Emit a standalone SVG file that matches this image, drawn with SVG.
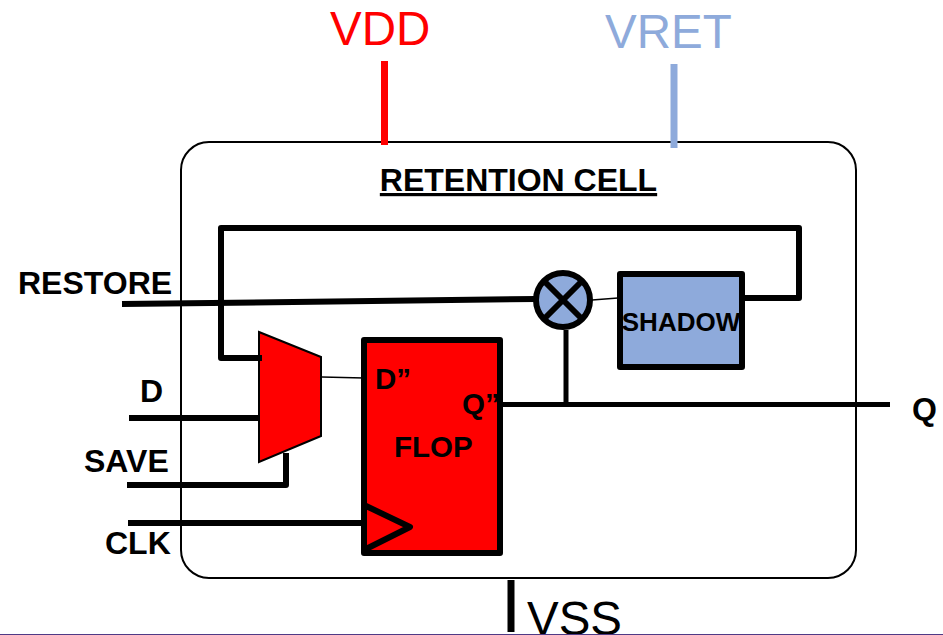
<svg xmlns="http://www.w3.org/2000/svg" width="943" height="635" viewBox="0 0 943 635">
<style>
text{font-family:"Liberation Sans",Arial,sans-serif;fill:#000}
.b{font-weight:700;font-size:32px}
.f{font-weight:700;font-size:29.500px}
.p{font-size:47.500px}
.w{fill:none;stroke:#000;stroke-width:6;stroke-linejoin:round}
.n{fill:none;stroke:#000;stroke-width:5;stroke-linejoin:round}
.t{fill:none;stroke:#000;stroke-width:1.500}
</style>
<rect width="943" height="635" fill="#fff"/>
<g id="retention-cell">
<rect x="181" y="142" width="675" height="436" rx="28" fill="#fff" stroke="#000" stroke-width="2"/>
<text class="b" x="518.500" y="191" text-anchor="middle" text-decoration="underline">RETENTION CELL</text>
</g>
<g id="connectors">
<path d="M384.500 61V145" fill="none" stroke="#f00" stroke-width="7"/>
<path d="M674 64V148" fill="none" stroke="#8eaadb" stroke-width="7"/>
<path d="M511 580V632" fill="none" stroke="#000" stroke-width="7"/>
<path class="w" d="M262 358H221V228H799V298H744"/>
<path class="w" d="M122 304L536 299"/>
<path class="w" d="M129 418H260"/>
<path class="w" d="M127 485H286V453"/>
<path class="w" d="M128 523H364"/>
<path class="n" d="M500 404.500H890"/>
<path class="n" d="M566 330V404"/>
<path class="t" d="M322 377L364 378"/>
<path class="t" d="M592 300L618 298"/>
</g>
<g id="mux">
<path d="M259 332L321 357V436L259 462Z" fill="#f00" stroke="#000" stroke-width="2"/>
<path d="M249 358H262" class="w"/>
</g>
<g id="flop">
<rect x="364" y="340" width="136" height="213" fill="#f00" stroke="#000" stroke-width="6" stroke-linejoin="round"/>
<path d="M364 505L410 527L364 550Z" fill="#f00" stroke="#000" stroke-width="6" stroke-linejoin="round"/>
<text class="f" x="375" y="389">D”</text>
<text class="f" x="462" y="414">Q”</text>
<text class="f" x="394" y="457">FLOP</text>
</g>
<g id="xor">
<circle cx="563" cy="300" r="27" fill="#8eaadb" stroke="#000" stroke-width="6"/>
<path d="M544 281L582 319M582 281L544 319" fill="none" stroke="#000" stroke-width="6"/>
</g>
<g id="shadow">
<rect x="620" y="274" width="122" height="93" fill="#8eaadb" stroke="#000" stroke-width="6" stroke-linejoin="round"/>
<text x="681" y="331" text-anchor="middle" font-weight="700" font-size="26">SHADOW</text>
</g>
<g id="labels">
<text class="b" x="18" y="294">RESTORE</text>
<text class="b" x="140" y="402">D</text>
<text class="b" x="84" y="472">SAVE</text>
<text class="b" x="105" y="554">CLK</text>
<text class="b" x="912" y="420">Q</text>
<text class="p" x="330" y="45" style="fill:#f00">VDD</text>
<text class="p" x="605" y="48" style="fill:#8eaadb">VRET</text>
<text class="p" x="527" y="635">VSS</text>
</g>
<rect x="0" y="634" width="943" height="1" fill="#4f3a86"/>
</svg>
